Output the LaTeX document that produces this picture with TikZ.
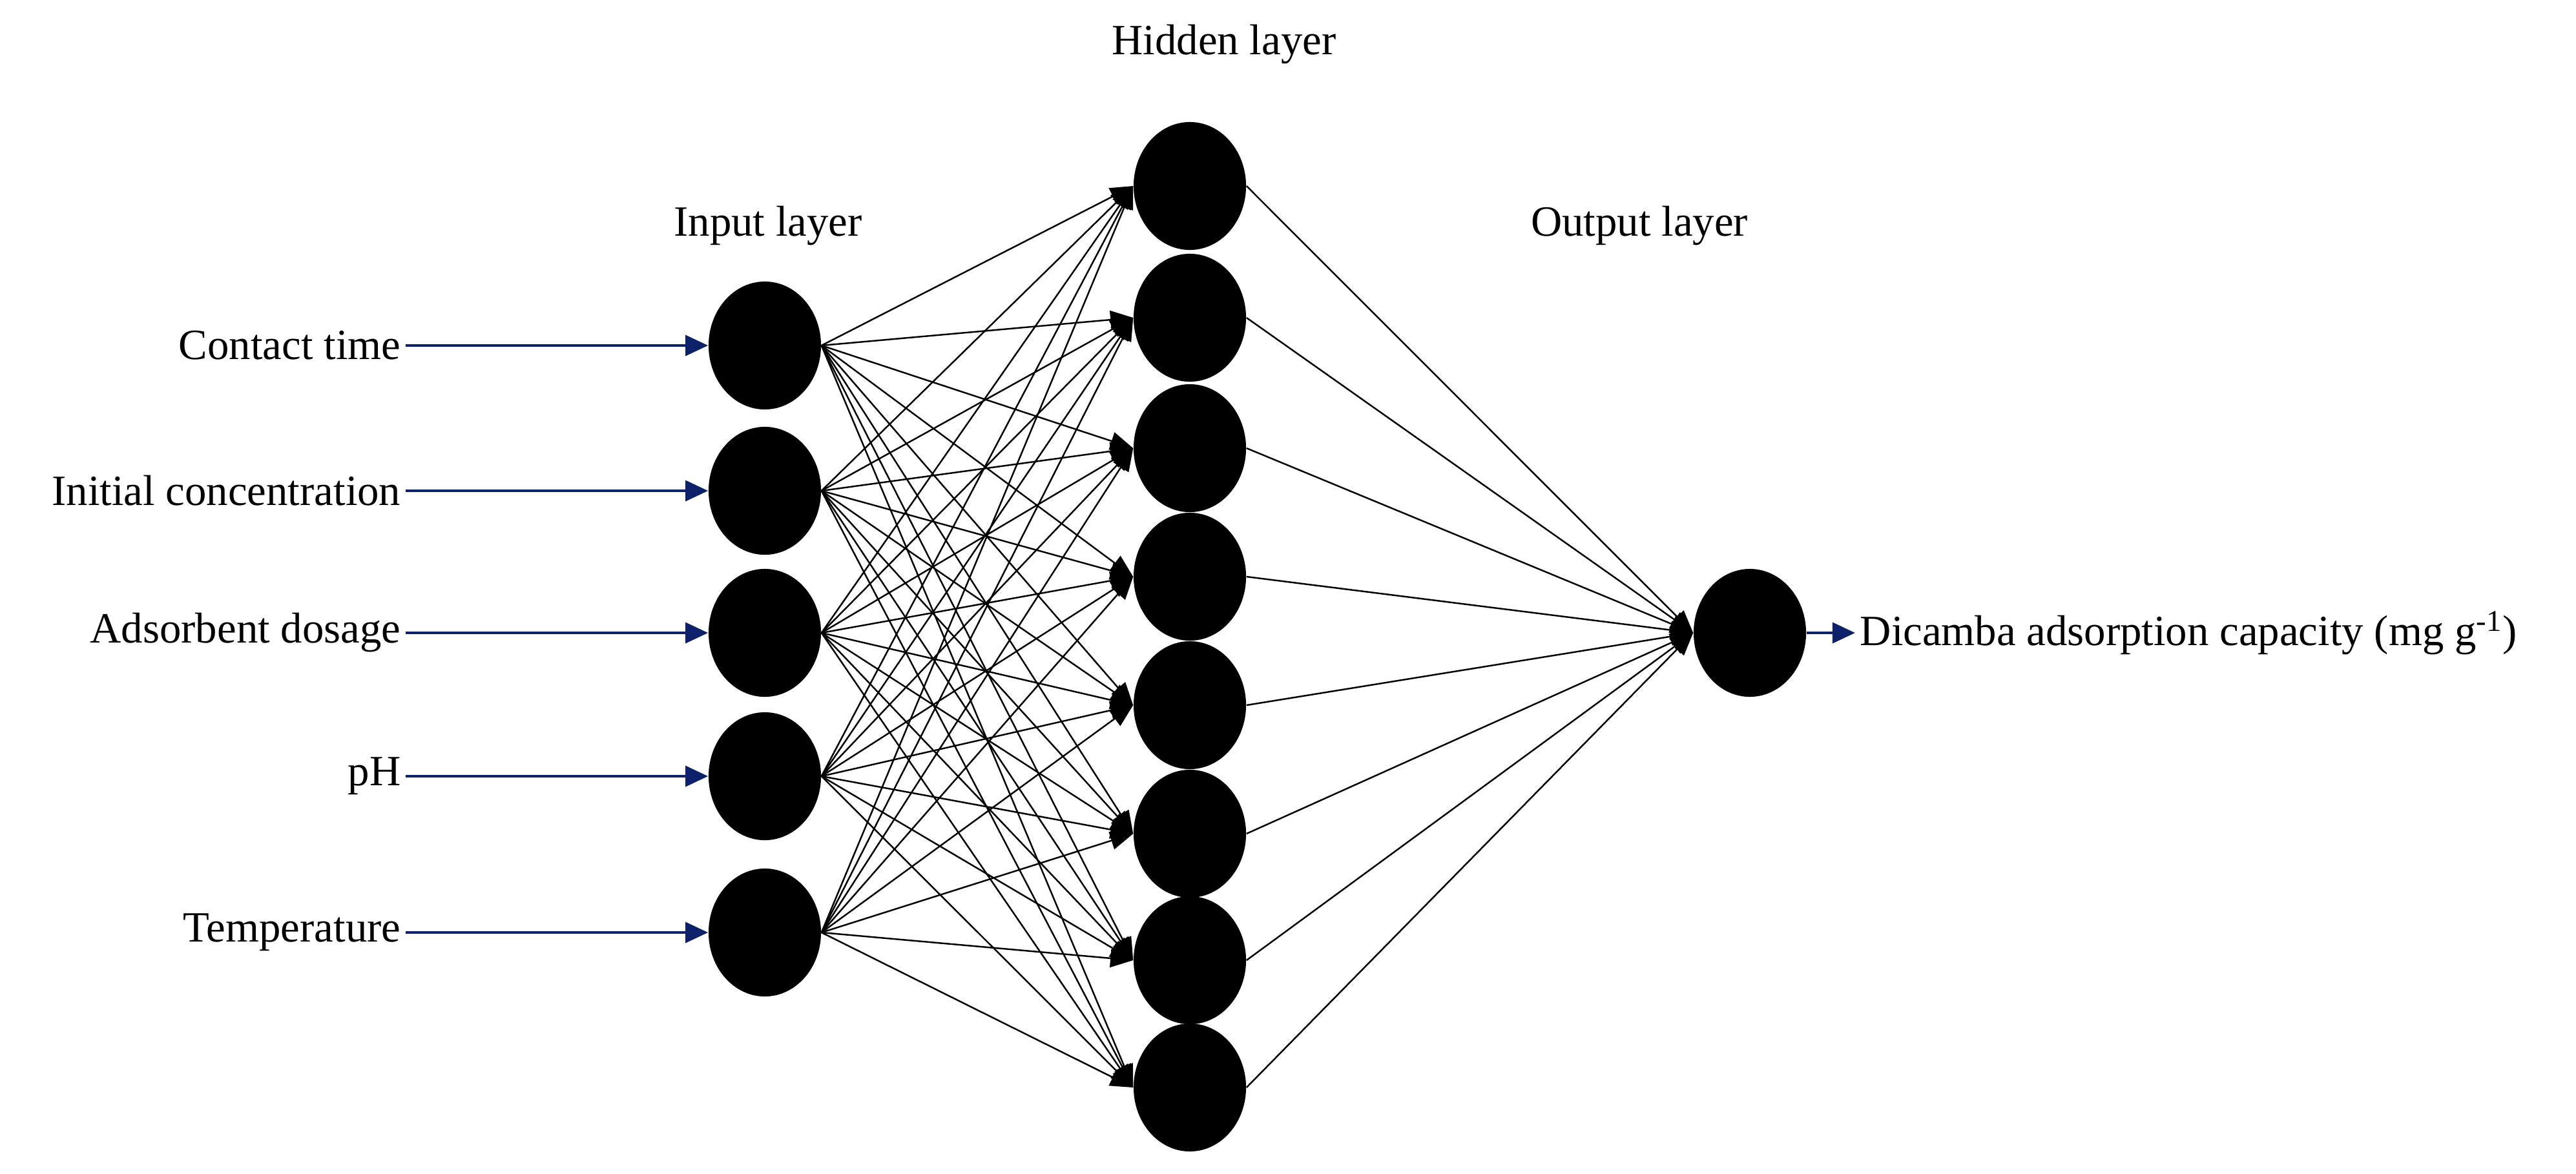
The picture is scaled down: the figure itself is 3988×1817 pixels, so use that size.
\documentclass[tikz,border=0pt]{standalone}
\usepackage{fontspec}
\setmainfont{Liberation Serif}
\usetikzlibrary{arrows.meta}
\definecolor{navy}{rgb}{0.05, 0.13, 0.42}
\tikzset{
    neuron/.style={ellipse,fill=black,draw=none,minimum width=1.74cm,minimum height=1.98cm,inner sep=0pt},
    link/.style={draw=black,line width=0.7pt,-{Triangle[length=10pt,width=8pt]}},
    feed/.style={draw=navy,line width=1.4pt,-{Triangle[length=10pt,width=9pt]}},
    lbl/.style={font=\fontsize{19pt}{22pt}\selectfont,inner sep=2pt}
}
\usetikzlibrary{shapes.geometric}
\begin{document}
\begin{tikzpicture}[x=0.01cm,y=-0.01cm]
        \useasboundingbox (0,0) rectangle (3988,1817);
        % layer titles
        \node[lbl] (titlein) at (1189,350) {Input layer};
        \node[lbl] (titlehid) at (1895,69) {Hidden layer};
        \node[lbl] (titleout) at (2538,350) {Output layer};
        % input layer
        \foreach \k/\y/\txt in {1/535/Contact time,2/760/Initial concentration,3/980/Adsorbent dosage,4/1202/pH,5/1444/Temperature}{
            \node[neuron] (in\k) at (1184,\y) {};
            \node[lbl,anchor=east] (name\k) at (628,\y) {\txt};
            \draw[feed] (name\k.east) -- (in\k.west);
        }
        % hidden layer
        \foreach \k/\y in {1/288,2/492,3/694,4/893,5/1092,6/1291,7/1487,8/1684}{
            \node[neuron] (hid\k) at (1842,\y) {};
        }
        % output layer
        \node[neuron] (out) at (2709,980) {};
        \node[lbl,anchor=west] (target) at (2872,980) {Dicamba adsorption capacity (mg g\textsuperscript{-1})};
        \draw[feed] (out.east) -- (target.west);
        \foreach \i in {1,...,5}{
            \foreach \j in {1,...,8}{
                \draw[link] (in\i.east) -- (hid\j.west);
            }
        }
        \foreach \j in {1,...,8}{
            \draw[link] (hid\j.east) -- (out.west);
        }
    \end{tikzpicture}
\end{document}
